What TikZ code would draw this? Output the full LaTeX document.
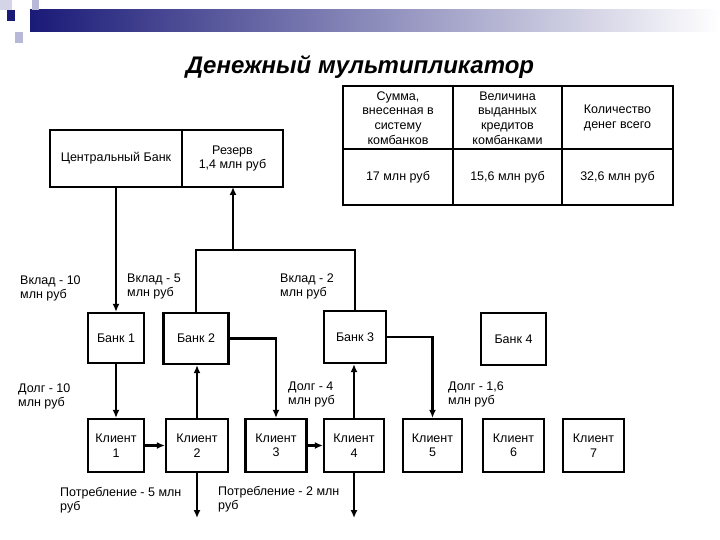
\documentclass[tikz,border=0pt]{standalone}
\usepackage{fontspec}
\setmainfont{Liberation Sans}
\usetikzlibrary{arrows.meta}
\definecolor{navy}{HTML}{1A1A78}
\definecolor{lav}{HTML}{B8B8D8}
\begin{document}
\begin{tikzpicture}[x=1pt,y=-1pt,
  box/.style={draw,line width=2.2pt,inner sep=0pt,font=\fontsize{12.5}{14.5}\selectfont,align=center},
  lbl/.style={anchor=north west,inner sep=0pt,align=left,font=\fontsize{12.5}{14}\selectfont},
  cell/.style={inner sep=0pt,align=center,font=\fontsize{12.5}{14.7}\selectfont},
  con/.style={line width=2.6pt},
  arr/.style={line width=2.6pt,-{Latex[length=8pt,width=7pt]}}]
\useasboundingbox (0,0) rectangle (720,540);
% header decoration
\shade[left color=navy,right color=white] (30,10) rectangle (720,32);
\fill[lav] (32,0) rectangle (39,10);
\fill[lav] (15,32) rectangle (23,43);
\fill[lav!60] (0,0) rectangle (12,10);
\fill[navy] (7,10) rectangle (15,21);
\node[font=\fontsize{24}{27}\selectfont\bfseries\itshape] (title) at (360,67) {Денежный мультипликатор};
% central bank
\node[box,minimum width=132pt,minimum height=57pt] (cb) at (116,158.5) {Центральный Банк};
\node[box,minimum width=101pt,minimum height=57pt] (res) at (232.5,158.5) {Резерв\\1,4 млн руб};
% table
\draw[line width=2.2pt] (343,86) rectangle (673,205);
\draw[line width=2.2pt] (343,149) -- (673,149) (453,86) -- (453,205) (562,86) -- (562,205);
\node[cell] (h1) at (398,118) {Сумма,\\внесенная в\\систему\\комбанков};
\node[cell] (h2) at (507.5,118) {Величина\\выданных\\кредитов\\комбанками};
\node[cell] (h3) at (617.5,118) {Количество\\денег всего};
\node[cell] (v1) at (398,177) {17 млн руб};
\node[cell] (v2) at (507.5,177) {15,6 млн руб};
\node[cell] (v3) at (617.5,177) {32,6 млн руб};
% banks
\node[box,minimum width=56pt,minimum height=50pt] (b1) at (116,338) {Банк 1};
\node[box,minimum width=65pt,minimum height=51pt] (b2) at (196,338.5) {Банк 2};
\node[box,minimum width=62pt,minimum height=52pt] (b3) at (355,337) {Банк 3};
\node[box,minimum width=65pt,minimum height=52pt] (b4) at (513.5,339) {Банк 4};
% clients
\node[box,minimum width=56pt,minimum height=53pt] (c1) at (116,445.5) {Клиент\\1};
\node[box,minimum width=62pt,minimum height=53pt] (c2) at (197,445.5) {Клиент\\2};
\node[box,minimum width=61pt,minimum height=53pt] (c3) at (276,445.5) {Клиент\\3};
\node[box,minimum width=60pt,minimum height=53pt] (c4) at (354,445.5) {Клиент\\4};
\node[box,minimum width=59pt,minimum height=53pt] (c5) at (432.5,445.5) {Клиент\\5};
\node[box,minimum width=61pt,minimum height=53pt] (c6) at (513.5,445.5) {Клиент\\6};
\node[box,minimum width=61pt,minimum height=53pt] (c7) at (593.5,445.5) {Клиент\\7};
% connectors
\coordinate (j1) at (196,250);
\coordinate (j2) at (233,250);
\coordinate (j3) at (355,250);
\coordinate (e2) at (197,518);
\coordinate (e4) at (354,518);
\draw[arr] (116,187) -- (b1.north);
\draw[con] (b2.north) -- (j1) -- (j3) -- (b3.north);
\draw[arr] (j2) -- (233,187);
\draw[arr] (b2.east) -| (c3.north);
\draw[arr] (b3.east) -| (c5.north);
\draw[arr] (b1.south) -- (c1.north);
\draw[arr] (c1.east) -- (c2.west);
\draw[arr] (c2.north) -- (c2.north |- b2.south);
\draw[arr] (c2.south) -- (e2);
\draw[arr] (c3.east) -- (c4.west);
\draw[arr] (c4.north) -- (c4.north |- b3.south);
\draw[arr] (c4.south) -- (e4);
% labels
\node[lbl] (l1) at (20,276) {Вклад - 10\\млн руб};
\node[lbl] (l2) at (127,274) {Вклад - 5\\млн руб};
\node[lbl] (l3) at (280,274) {Вклад - 2\\млн руб};
\node[lbl] (l4) at (18,384) {Долг - 10\\млн руб};
\node[lbl] (l5) at (288,382) {Долг - 4\\млн руб};
\node[lbl] (l6) at (448,382) {Долг - 1,6\\млн руб};
\node[lbl] (l7) at (60,487) {Потребление - 5 млн\\руб};
\node[lbl] (l8) at (218,486) {Потребление - 2 млн\\руб};
\end{tikzpicture}
\end{document}
